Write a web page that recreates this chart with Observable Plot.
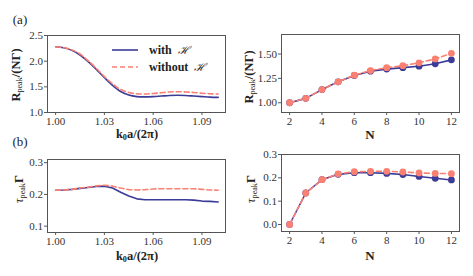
<!DOCTYPE html>
<html>
<head>
<meta charset="utf-8">
<script src="https://cdn.jsdelivr.net/npm/d3@7"></script>
<script src="https://cdn.jsdelivr.net/npm/@observablehq/plot@0.6"></script>
<style>
  body { margin: 0; background: #fff; }
  #wrap { position: relative; width: 473px; height: 276px; font-family: "Liberation Serif", serif; color: #222; overflow: hidden; }
  #wrap svg { position: absolute; }
  .lab { position: absolute; white-space: nowrap; font-size: 12.5px; line-height: 1; transform: translate(-50%, -50%); }
  .rot { transform: translate(-50%, -50%) rotate(-90deg); }
  .lab sub { font-size: 65%; vertical-align: -0.3em; font-weight: normal; line-height: 0; }
  .leg { position: absolute; font-size: 12px; font-weight: bold; line-height: 1; transform: translateY(-50%); white-space: nowrap; }
  .cal { font-style: italic; font-weight: normal; font-family: "DejaVu Serif", serif; font-size: 11px; margin-left: 6px; }
</style>
</head>
<body>
<div id="wrap"></div>
<script>
// ---- data ----
const kx = [1.000, 1.005, 1.010, 1.015, 1.020, 1.025, 1.030, 1.035, 1.040, 1.045, 1.050,
            1.055, 1.060, 1.065, 1.070, 1.075, 1.080, 1.085, 1.090, 1.095, 1.100];
const rWith    = [2.28, 2.26, 2.21, 2.12, 1.99, 1.84, 1.68, 1.53, 1.41, 1.34, 1.31,
                  1.305, 1.31, 1.32, 1.33, 1.335, 1.33, 1.32, 1.31, 1.30, 1.295];
const rWithout = [2.28, 2.265, 2.22, 2.14, 2.01, 1.86, 1.70, 1.56, 1.45, 1.39, 1.365,
                  1.36, 1.37, 1.385, 1.40, 1.405, 1.40, 1.39, 1.375, 1.365, 1.36];
const tWith    = [0.213, 0.214, 0.216, 0.219, 0.222, 0.225, 0.226, 0.220, 0.207, 0.195, 0.186,
                  0.183, 0.183, 0.183, 0.183, 0.183, 0.183, 0.182, 0.179, 0.178, 0.176];
const tWithout = [0.213, 0.214, 0.216, 0.220, 0.223, 0.227, 0.229, 0.226, 0.220, 0.215, 0.214,
                  0.215, 0.217, 0.218, 0.218, 0.218, 0.218, 0.218, 0.216, 0.214, 0.213];

const Nvals      = [2, 3, 4, 5, 6, 7, 8, 9, 10, 11, 12];
const rNWith     = [1.00, 1.045, 1.135, 1.215, 1.28, 1.324, 1.345, 1.36, 1.375, 1.40, 1.44];
const rNWithout  = [1.00, 1.045, 1.135, 1.215, 1.283, 1.33, 1.36, 1.38, 1.41, 1.45, 1.507];
const tNWith     = [0.0, 0.135, 0.192, 0.215, 0.222, 0.222, 0.219, 0.214, 0.206, 0.198, 0.191];
const tNWithout  = [0.0, 0.135, 0.192, 0.217, 0.226, 0.228, 0.228, 0.225, 0.221, 0.219, 0.218];

const seriesNames = ["with ℋ", "without ℋ"];
const BLUE = "#3b3b98", SALMON = "#fa8072";

const wrap = document.getElementById("wrap");

function panel(o) {
  const rows = (xs, ys) => xs.map((x, i) => ({x, y: ys[i]}));
  const a = rows(o.xs, o.y1), b = rows(o.xs, o.y2);
  const marks = [
    Plot.frame({stroke: "#555", strokeWidth: 1}),
    Plot.axisX({ticks: o.xTicks, tickFormat: d3.format(o.xFmt), tickSize: 3, tickPadding: 2, label: null, fontSize: 11, stroke: "#555", fill: "#333"}),
    Plot.axisY({ticks: o.yTicks, tickFormat: d3.format(o.yFmt), tickSize: 3, tickPadding: 1.5, label: null, fontSize: 11, stroke: "#555", fill: "#333"}),
    Plot.line(a, {x: "x", y: "y", stroke: BLUE, strokeWidth: 1.6, curve: o.curve}),
  ];
  if (o.dots) marks.push(Plot.dot(a, {x: "x", y: "y", r: 3.4, fill: BLUE, stroke: "none"}));
  marks.push(Plot.line(b, {x: "x", y: "y", stroke: SALMON, strokeWidth: 1.6, strokeDasharray: "5,3", curve: o.curve}));
  if (o.dots) marks.push(Plot.dot(b, {x: "x", y: "y", r: 3.4, fill: SALMON, stroke: "none"}));
  const svg = Plot.plot({
    width: o.w, height: o.h,
    marginLeft: o.ml, marginRight: o.mr, marginTop: o.mt, marginBottom: o.mb,
    x: {domain: o.xDomain}, y: {domain: o.yDomain},
    style: {fontFamily: "'Liberation Serif', serif", fontSize: "11px", background: "transparent", overflow: "visible"},
    marks
  });
  svg.style.left = o.left + "px";
  svg.style.top = o.top + "px";
  wrap.appendChild(svg);
}

panel({left: 0, top: 0, w: 236, h: 140, ml: 47, mr: 11, mt: 35, mb: 28,
  xs: kx, y1: rWith, y2: rWithout, curve: "catmull-rom",
  xDomain: [0.995, 1.1045], yDomain: [1.0, 2.5],
  xTicks: [1.00, 1.03, 1.06, 1.09], xFmt: ".2f", yTicks: [1.0, 1.5, 2.0, 2.5], yFmt: ".1f"});

panel({left: 236, top: 0, w: 237, h: 140, ml: 45, mr: 14, mt: 34, mb: 28,
  xs: Nvals, y1: rNWith, y2: rNWithout, curve: "linear", dots: true,
  xDomain: [1.5, 12.5], yDomain: [0.9, 1.7],
  xTicks: [2, 4, 6, 8, 10, 12], xFmt: "d", yTicks: [1.00, 1.25, 1.50], yFmt: ".2f"});

panel({left: 0, top: 136, w: 236, h: 140, ml: 47, mr: 11, mt: 23, mb: 44,
  xs: kx, y1: tWith, y2: tWithout, curve: "linear",
  xDomain: [0.995, 1.1045], yDomain: [0.08, 0.31],
  xTicks: [1.00, 1.03, 1.06, 1.09], xFmt: ".2f", yTicks: [0.1, 0.2, 0.3], yFmt: ".1f"});

panel({left: 236, top: 136, w: 237, h: 140, ml: 45, mr: 14, mt: 18, mb: 45,
  xs: Nvals, y1: tNWith, y2: tNWithout, curve: "linear", dots: true,
  xDomain: [1.5, 12.5], yDomain: [-0.03, 0.30],
  xTicks: [2, 4, 6, 8, 10, 12], xFmt: "d", yTicks: [0.0, 0.1, 0.2, 0.3], yFmt: ".1f"});

// ---- text labels ----
function label(html, x, y, rotate, extra) {
  const d = document.createElement("div");
  d.className = "lab" + (rotate ? " rot" : "");
  d.style.left = x + "px"; d.style.top = y + "px";
  if (extra) Object.assign(d.style, extra);
  d.innerHTML = html;
  wrap.appendChild(d);
}
const rLab = "<b>R</b><sub>peak</sub><b>/(NΓ)</b>";
const tLab = "<span style='font-style:italic'>τ</span><sub>peak</sub><b>Γ</b>";
const kLab = "<b>k<sub style='font-weight:bold'>0</sub>a/(2π)</b>";
label(rLab, 16, 75, true);
label(rLab, 249, 77, true);
label(tLab, 19, 189, true);
label(tLab, 251, 189, true);
label(kLab, 137, 134, false);
label(kLab, 137, 256, false);
label("<b>N</b>", 370, 134, false, {fontSize: "13px"});
label("<b>N</b>", 370, 255, false, {fontSize: "13px"});
label("(a)", 20, 19, false, {fontSize: "13px"});
label("(b)", 20, 141, false, {fontSize: "13px"});

// ---- legend ----
const legSvg = d3.create("svg").attr("width", 30).attr("height", 30)
  .style("left", "110px").style("top", "44px");
legSvg.append("line").attr("x1", 2).attr("x2", 28).attr("y1", 6).attr("y2", 6)
  .attr("stroke", BLUE).attr("stroke-width", 1.6);
legSvg.append("line").attr("x1", 2).attr("x2", 28).attr("y1", 23).attr("y2", 23)
  .attr("stroke", SALMON).attr("stroke-width", 1.6).attr("stroke-dasharray", "5,3");
wrap.appendChild(legSvg.node());
seriesNames.forEach((s, i) => {
  const d = document.createElement("div");
  d.className = "leg";
  d.style.left = "149px"; d.style.top = (50 + i * 17) + "px";
  const [w, h] = s.split(" ");
  d.innerHTML = w + "<span class='cal'>" + h + "</span>";
  wrap.appendChild(d);
});
</script>
</body>
</html>
